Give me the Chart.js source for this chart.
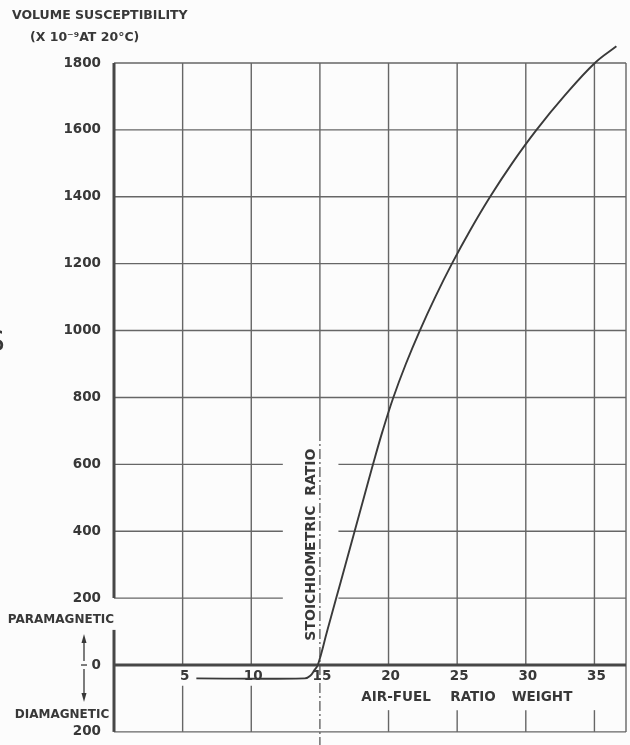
<!DOCTYPE html>
<html>
<head>
<meta charset="utf-8">
<script src="https://cdn.jsdelivr.net/npm/chart.js@4.4.0/dist/chart.umd.min.js"></script>
<style>
	html, body { margin: 0; padding: 0; background: #fcfcfc; }
	canvas { display: block; }
</style>
</head>
<body>
<canvas id="susceptibilidad" width="630" height="745"></canvas>
<script>
// valores
const airFuel = [6.0, 13.9, 14.3, 14.6, 14.85, 15.52, 16.19, 16.86, 17.53, 18.2, 18.87, 19.57, 20.35, 21.26, 22.28, 23.4, 24.62, 25.95, 27.4, 29.0, 30.78, 32.78, 35.03, 36.6];
const susceptibility = [-40, -40, -32, -15, 0, 100, 200, 300, 400, 500, 600, 700, 800, 900, 1000, 1100, 1200, 1300, 1400, 1500, 1600, 1700, 1800, 1850];
const xTicks = [5, 10, 15, 20, 25, 30, 35];
const yMin = -200, yMax = 1800, yStep = 200;
const xMin = 0, xMax = 37.3;

var fontFam = '"DejaVu Sans", sans-serif';
var ink = '#383838';
var gridInk = '#666666';

function linea(ctx, x1, y1, x2, y2) {
	ctx.beginPath();
	ctx.moveTo(x1, y1);
	ctx.lineTo(x2, y2);
	ctx.stroke();
}

var rejilla = {
	id: 'rejilla',
	beforeDatasetsDraw: function (chart) {
		var ctx = chart.ctx, xs = chart.scales.x, ys = chart.scales.y, a = chart.chartArea;
		var y0 = ys.getPixelForValue(0);
		ctx.save();
		ctx.strokeStyle = gridInk;
		ctx.lineWidth = 1.4;
		// horizontales, cortadas donde va el texto vertical
		ys.ticks.forEach(function (t) {
			var v = t.value;
			if (v <= 0) return;
			var y = ys.getPixelForValue(v);
			if (v >= 200 && v <= 600) {
				linea(ctx, a.left, y, xs.getPixelForValue(12.3), y);
				linea(ctx, xs.getPixelForValue(16.35), y, a.right, y);
			} else {
				linea(ctx, a.left, y, a.right, y);
			}
		});
		linea(ctx, a.left, a.bottom, a.right, a.bottom);
		linea(ctx, a.right, a.top, a.right, a.bottom);
		// verticales
		xTicks.forEach(function (v) {
			var x = xs.getPixelForValue(v);
			if (v == 15) {
				var yc = ys.getPixelForValue(700);
				linea(ctx, x, a.top, x, yc);
				ctx.setLineDash([10, 3, 2, 3]);
				linea(ctx, x, yc, x, chart.height);
				ctx.setLineDash([]);
			} else {
				linea(ctx, x, a.top, x, y0);
				var bajo = v < 15 ? -62 : -135;
				linea(ctx, x, ys.getPixelForValue(bajo), x, a.bottom);
			}
		});
		// eje cero y eje izquierdo gruesos
		ctx.strokeStyle = '#474747';
		ctx.lineWidth = 3;
		linea(ctx, a.left, y0, a.right, y0);
		linea(ctx, a.left, a.top, a.left, ys.getPixelForValue(200));
		linea(ctx, a.left, ys.getPixelForValue(105), a.left, a.bottom);
		ctx.restore();
	},
	afterDraw: function (chart) {
		var ctx = chart.ctx, xs = chart.scales.x, ys = chart.scales.y;
		var y0 = ys.getPixelForValue(0);
		ctx.save();
		ctx.fillStyle = ink;
		ctx.strokeStyle = ink;
		ctx.textBaseline = 'middle';
		ctx.textAlign = 'center';
		ctx.font = 'bold 13.5px ' + fontFam;
		xTicks.forEach(function (v) {
			ctx.fillText(String(v), xs.getPixelForValue(v) + 2, y0 + 11);
		});
		ctx.fillText('AIR-FUEL', 396, 697);
		ctx.fillText('RATIO', 473, 697);
		ctx.fillText('WEIGHT', 542, 697);
		ctx.font = 'bold 12px ' + fontFam;
		ctx.fillText('PARAMAGNETIC', 61, 620);
		ctx.fillText('DIAMAGNETIC', 62, 715);
		// titulo del eje y
		ctx.textAlign = 'left';
		ctx.font = 'bold 12.5px ' + fontFam;
		ctx.fillText('VOLUME SUSCEPTIBILITY', 12, 16);
		ctx.fillText('(X 10\u207B\u2079AT 20\u00B0C)', 30, 38);
		// texto vertical
		ctx.save();
		ctx.translate(xs.getPixelForValue(14.35), ys.getPixelForValue(360));
		ctx.rotate(-Math.PI / 2);
		ctx.textAlign = 'center';
		ctx.font = 'bold 14px ' + fontFam;
		ctx.fillText('STOICHIOMETRIC  RATIO', 0, 0);
		ctx.restore();
		// flechas para/dia
		ctx.lineWidth = 1.3;
		var ax = 84;
		linea(ctx, ax, y0 - 24, ax, y0 - 4);
		linea(ctx, ax, y0 + 4, ax, y0 + 31);
		linea(ctx, ax - 3, y0, ax + 3, y0);
		ctx.beginPath();
		ctx.moveTo(ax, y0 - 31); ctx.lineTo(ax - 2.5, y0 - 22); ctx.lineTo(ax + 2.5, y0 - 22); ctx.closePath();
		ctx.fill();
		ctx.beginPath();
		ctx.moveTo(ax, y0 + 37); ctx.lineTo(ax - 2.5, y0 + 28); ctx.lineTo(ax + 2.5, y0 + 28); ctx.closePath();
		ctx.fill();
		// letra cortada en el borde
		ctx.font = '28px ' + fontFam;
		ctx.fillText('S', -13, 344);
		ctx.restore();
	}
};

document.addEventListener('DOMContentLoaded', function () {
	let puntos = [];
	for (let i = 0; i < airFuel.length; i++) {
		puntos.push({ x: airFuel[i], y: susceptibility[i] });
	}
	new Chart(document.getElementById('susceptibilidad'), {
		type: 'line',
		data: {
			datasets: [{
				data: puntos,
				borderColor: '#3a3a3a',
				borderWidth: 1.9,
				pointRadius: 0,
				tension: 0.4,
				clip: false
			}]
		},
		options: {
			responsive: false,
			animation: false,
			layout: { padding: { top: 63, right: 4, bottom: 9, left: 0 } },
			plugins: { legend: { display: false }, tooltip: { enabled: false } },
			scales: {
				x: { type: 'linear', min: xMin, max: xMax, display: false },
				y: {
					min: yMin, max: yMax,
					grid: { display: false },
					border: { display: false },
					ticks: {
						stepSize: yStep,
						padding: 5,
						color: ink,
						font: { family: fontFam, size: 13.5, weight: 'bold' },
						callback: function (v) { return Math.abs(v); }
					},
					afterFit: function (s) { s.width = 114; }
				}
			}
		},
		plugins: [rejilla]
	});
});
</script>
</body>
</html>
